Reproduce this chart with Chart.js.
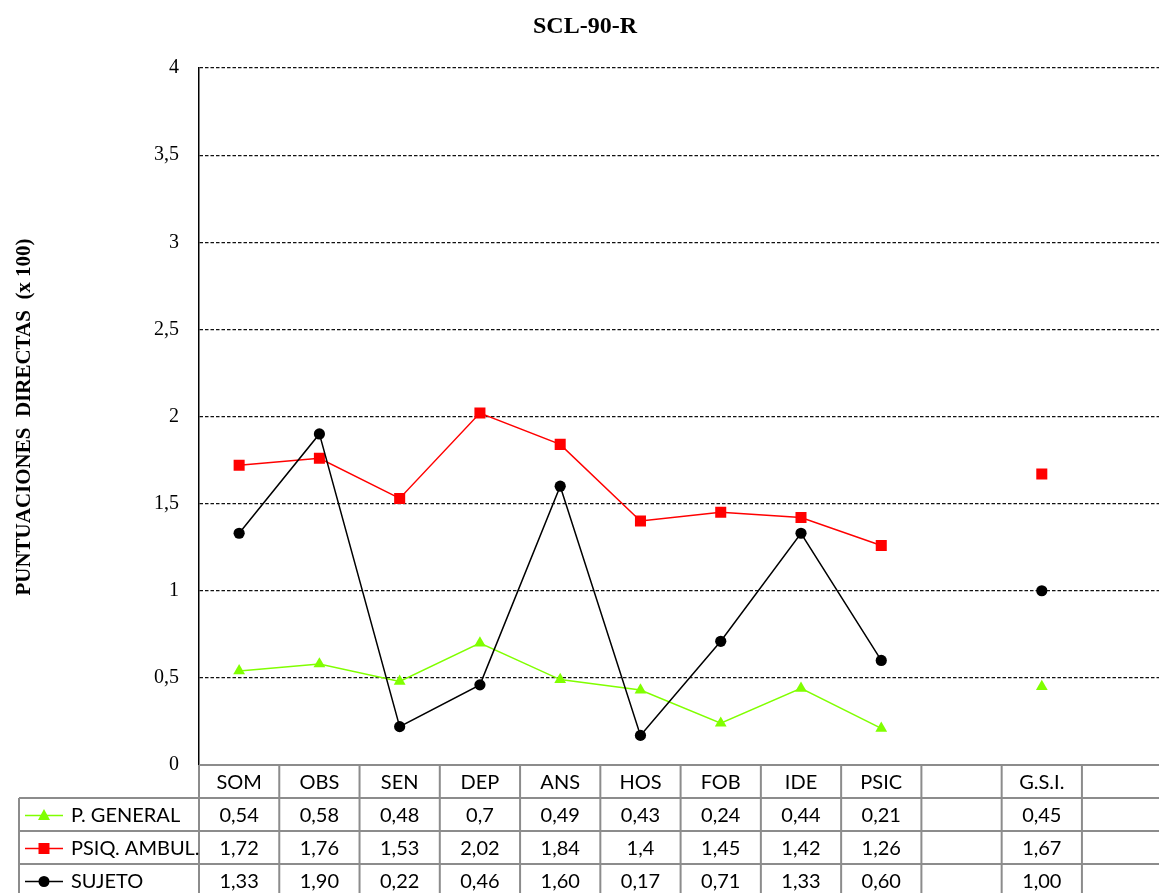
<!DOCTYPE html>
<html>
<head>
<meta charset="utf-8">
<title>SCL-90-R</title>
<script src="https://cdn.jsdelivr.net/npm/chart.js@4.4.1/dist/chart.umd.min.js"></script>
<style>
  html, body { margin: 0; padding: 0; background: #fff; overflow: hidden; }
  #wrap { width: 1170px; height: 893px; }
</style>
</head>
<body>
<div id="wrap"><canvas id="chart" width="1170" height="893"></canvas></div>
<script>
// Scale categories (blank columns keep the gap before and after G.S.I.)
const categories = ['SOM', 'OBS', 'SEN', 'DEP', 'ANS', 'HOS', 'FOB', 'IDE', 'PSIC', '', 'G.S.I.', ''];

// Mean scores per scale
const generalPop = [0.54, 0.58, 0.48, 0.70, 0.49, 0.43, 0.24, 0.44, 0.21, null, 0.45, null];
const psychOutpatient = [1.72, 1.76, 1.53, 2.02, 1.84, 1.40, 1.45, 1.42, 1.26, null, 1.67, null];
const subject = [1.33, 1.90, 0.22, 0.46, 1.60, 0.17, 0.71, 1.33, 0.60, null, 1.00, null];

const yTicks = [0, 0.5, 1, 1.5, 2, 2.5, 3, 3.5, 4];

const seriesNames = ['P. GENERAL', 'PSIQ. AMBUL.', 'SUJETO'];
const seriesColors = ['#80ff00', '#ff0000', '#000000'];
const seriesShapes = ['triangle', 'rect', 'circle'];

const comma = v => String(v).replace('.', ',');
// Table text: the first two rows use general number format, the subject row two decimals
const formatters = [comma, comma, v => v.toFixed(2).replace('.', ',')];

const TABLE_FONT = '20px Lato';
const SERIF = '"Liberation Serif", "Times New Roman", serif';

function drawMarker(ctx, shape, x, y, color) {
  ctx.save();
  ctx.fillStyle = color;
  ctx.beginPath();
  if (shape === 'triangle') {
    ctx.moveTo(x, y - 6.5);
    ctx.lineTo(x + 6, y + 4.5);
    ctx.lineTo(x - 6, y + 4.5);
    ctx.closePath();
  } else if (shape === 'rect') {
    ctx.rect(x - 5.5, y - 5.5, 11, 11);
  } else {
    ctx.arc(x, y, 5.5, 0, Math.PI * 2);
  }
  ctx.fill();
  ctx.restore();
}

// Title, vertical axis title and the data table under the category axis
const decorations = {
  id: 'decorations',
  afterDraw(chart) {
    const ctx = chart.ctx;
    const area = chart.chartArea;
    const xs = chart.scales.x;
    const n = categories.length;
    const colW = (xs.right - xs.left) / n;
    const top = area.bottom;
    const headerH = 33;
    const rowH = 33;
    const legendLeft = 19;
    const bottom = top + headerH + rowH * 3;

    ctx.save();
    // title
    ctx.fillStyle = '#000';
    ctx.font = 'bold 24px ' + SERIF;
    ctx.textAlign = 'center';
    ctx.textBaseline = 'middle';
    ctx.fillText('SCL-90-R', chart.width / 2, 27);

    // vertical axis title
    ctx.save();
    ctx.translate(25, 417);
    ctx.rotate(-Math.PI / 2);
    ctx.font = 'bold 21px ' + SERIF;
    ctx.fillText('PUNTUACIONES  DIRECTAS  (x 100)', 0, 0);
    ctx.restore();

    // table grid
    ctx.strokeStyle = '#8c8c8c';
    ctx.lineWidth = 2;
    ctx.beginPath();
    ctx.moveTo(xs.left, top);
    ctx.lineTo(xs.right, top);
    for (let r = 0; r < 3; r++) {
      const y = top + headerH + r * rowH;
      ctx.moveTo(legendLeft, y);
      ctx.lineTo(xs.right, y);
    }
    ctx.moveTo(legendLeft, top + headerH);
    ctx.lineTo(legendLeft, bottom);
    for (let k = 0; k <= n; k++) {
      const x = xs.left + k * colW;
      ctx.moveTo(x, top);
      ctx.lineTo(x, bottom);
    }
    ctx.stroke();

    // header labels
    ctx.fillStyle = '#000';
    ctx.font = TABLE_FONT;
    ctx.textAlign = 'center';
    ctx.textBaseline = 'middle';
    categories.forEach((c, i) => {
      ctx.fillText(c, xs.getPixelForValue(i), top + headerH / 2 + 1);
    });

    // series rows
    const series = [generalPop, psychOutpatient, subject];
    series.forEach((vals, r) => {
      const yMid = top + headerH + r * rowH + rowH / 2 + 1;
      // legend key
      ctx.save();
      ctx.strokeStyle = seriesColors[r];
      ctx.lineWidth = 1.5;
      ctx.beginPath();
      ctx.moveTo(25, yMid);
      ctx.lineTo(63, yMid);
      ctx.stroke();
      ctx.restore();
      drawMarker(ctx, seriesShapes[r], 44, yMid, seriesColors[r]);
      ctx.fillStyle = '#000';
      ctx.textAlign = 'left';
      ctx.fillText(seriesNames[r], 71, yMid);
      ctx.textAlign = 'center';
      vals.forEach((v, i) => {
        if (v === null) return;
        ctx.fillText(formatters[r](v), xs.getPixelForValue(i), yMid);
      });
    });
    ctx.restore();
  }
};

function makeDataset(label, data, idx, radius, order) {
  return {
    label,
    data,
    borderColor: seriesColors[idx],
    backgroundColor: seriesColors[idx],
    borderWidth: 1.5,
    pointStyle: seriesShapes[idx],
    pointRadius: radius,
    pointHoverRadius: radius,
    pointBorderWidth: 0,
    spanGaps: false,
    tension: 0,
    order
  };
}

new Chart(document.getElementById('chart'), {
  type: 'line',
  data: {
    labels: categories,
    datasets: [
      makeDataset(seriesNames[0], generalPop, 0, 6.8, 2),
      makeDataset(seriesNames[1], psychOutpatient, 1, 7.8, 1),
      makeDataset(seriesNames[2], subject, 2, 5.6, 0)
    ]
  },
  options: {
    responsive: false,
    animation: false,
    events: [],
    layout: { padding: { left: 0, top: 68, right: 2.6, bottom: 128 } },
    plugins: {
      legend: { display: false },
      title: { display: false },
      tooltip: { enabled: false }
    },
    scales: {
      x: {
        type: 'category',
        offset: true,
        grid: { display: false },
        border: { display: false },
        ticks: { display: false },
        afterFit(scale) { scale.height = 0; }
      },
      y: {
        min: 0,
        max: 4,
        afterFit(scale) { scale.width = 199; },
        afterBuildTicks(scale) { scale.ticks = yTicks.map(v => ({ value: v })); },
        grid: {
          drawTicks: false,
          color: c => (c.tick && c.tick.value === 0 ? 'rgba(0,0,0,0)' : '#111'),
          lineWidth: 1.2
        },
        border: { display: true, color: '#000', width: 1.5, dash: [3.5, 2] },
        ticks: {
          padding: 20,
          color: '#000',
          font: { family: SERIF, size: 20 },
          callback: v => comma(v)
        }
      }
    }
  },
  plugins: [decorations]
});
</script>
</body>
</html>
